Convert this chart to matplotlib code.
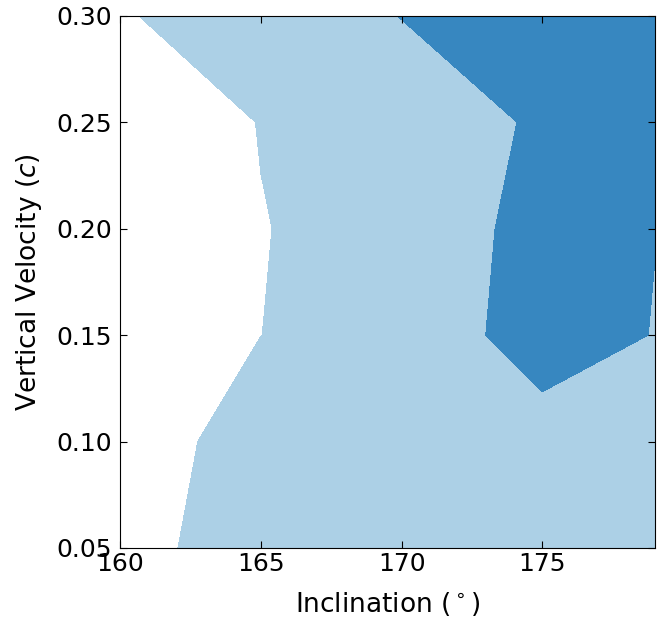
import numpy as np
import matplotlib
matplotlib.use("Agg")
import matplotlib.pyplot as plt

# grid of inclination (deg) and vertical velocity (c)
inclination = [160, 165, 170, 175, 179]
velocity = [0.05, 0.10, 0.15, 0.20, 0.25, 0.30]

# gridded field, one row per velocity (bottom to top)
row_005 = [0.651, 1.5, 1.5, 1.5, 1.5]
row_010 = [0.384, 1.5, 1.5, 1.705, 1.5]
row_015 = [0.0, 0.995, 1.5, 2.336, 1.979]
row_020 = [0.0, 0.957, 1.5, 2.253, 2.009]
row_025 = [0.0, 1.040, 1.573, 2.094, 2.5]
row_030 = [0.924, 1.5, 2.016, 2.5, 2.5]

levels = [-1, 1, 2, 3]
fill_colors = ["white", "#acd0e6", "#3787c0"]

xticks = [160, 165, 170, 175]
yticks = [0.05, 0.10, 0.15, 0.20, 0.25, 0.30]

Z = np.array([row_005, row_010, row_015, row_020, row_025, row_030])
X, Y = np.meshgrid(inclination, velocity)

fig = plt.figure(figsize=(6.71, 6.21), dpi=100)
ax = fig.add_axes([0.179, 0.1176, 0.797, 0.857])
ax.contourf(X, Y, Z, levels=levels, colors=fill_colors)

ax.set_xlim(160, 179)
ax.set_ylim(0.05, 0.30)
ax.set_xticks(xticks)
ax.set_yticks(yticks)
ax.set_yticklabels([f"{v:.2f}" for v in yticks])
ax.tick_params(direction="in", top=True, right=True, length=5, labelsize=18)
ax.tick_params(axis="x", pad=3)
ax.tick_params(axis="y", pad=6)
ax.set_xlabel(r"Inclination ($^\circ$)", fontsize=19, labelpad=10)
ax.set_ylabel(r"Vertical Velocity ($c$)", fontsize=19, labelpad=9)

fig.savefig("out.png", dpi=100)
